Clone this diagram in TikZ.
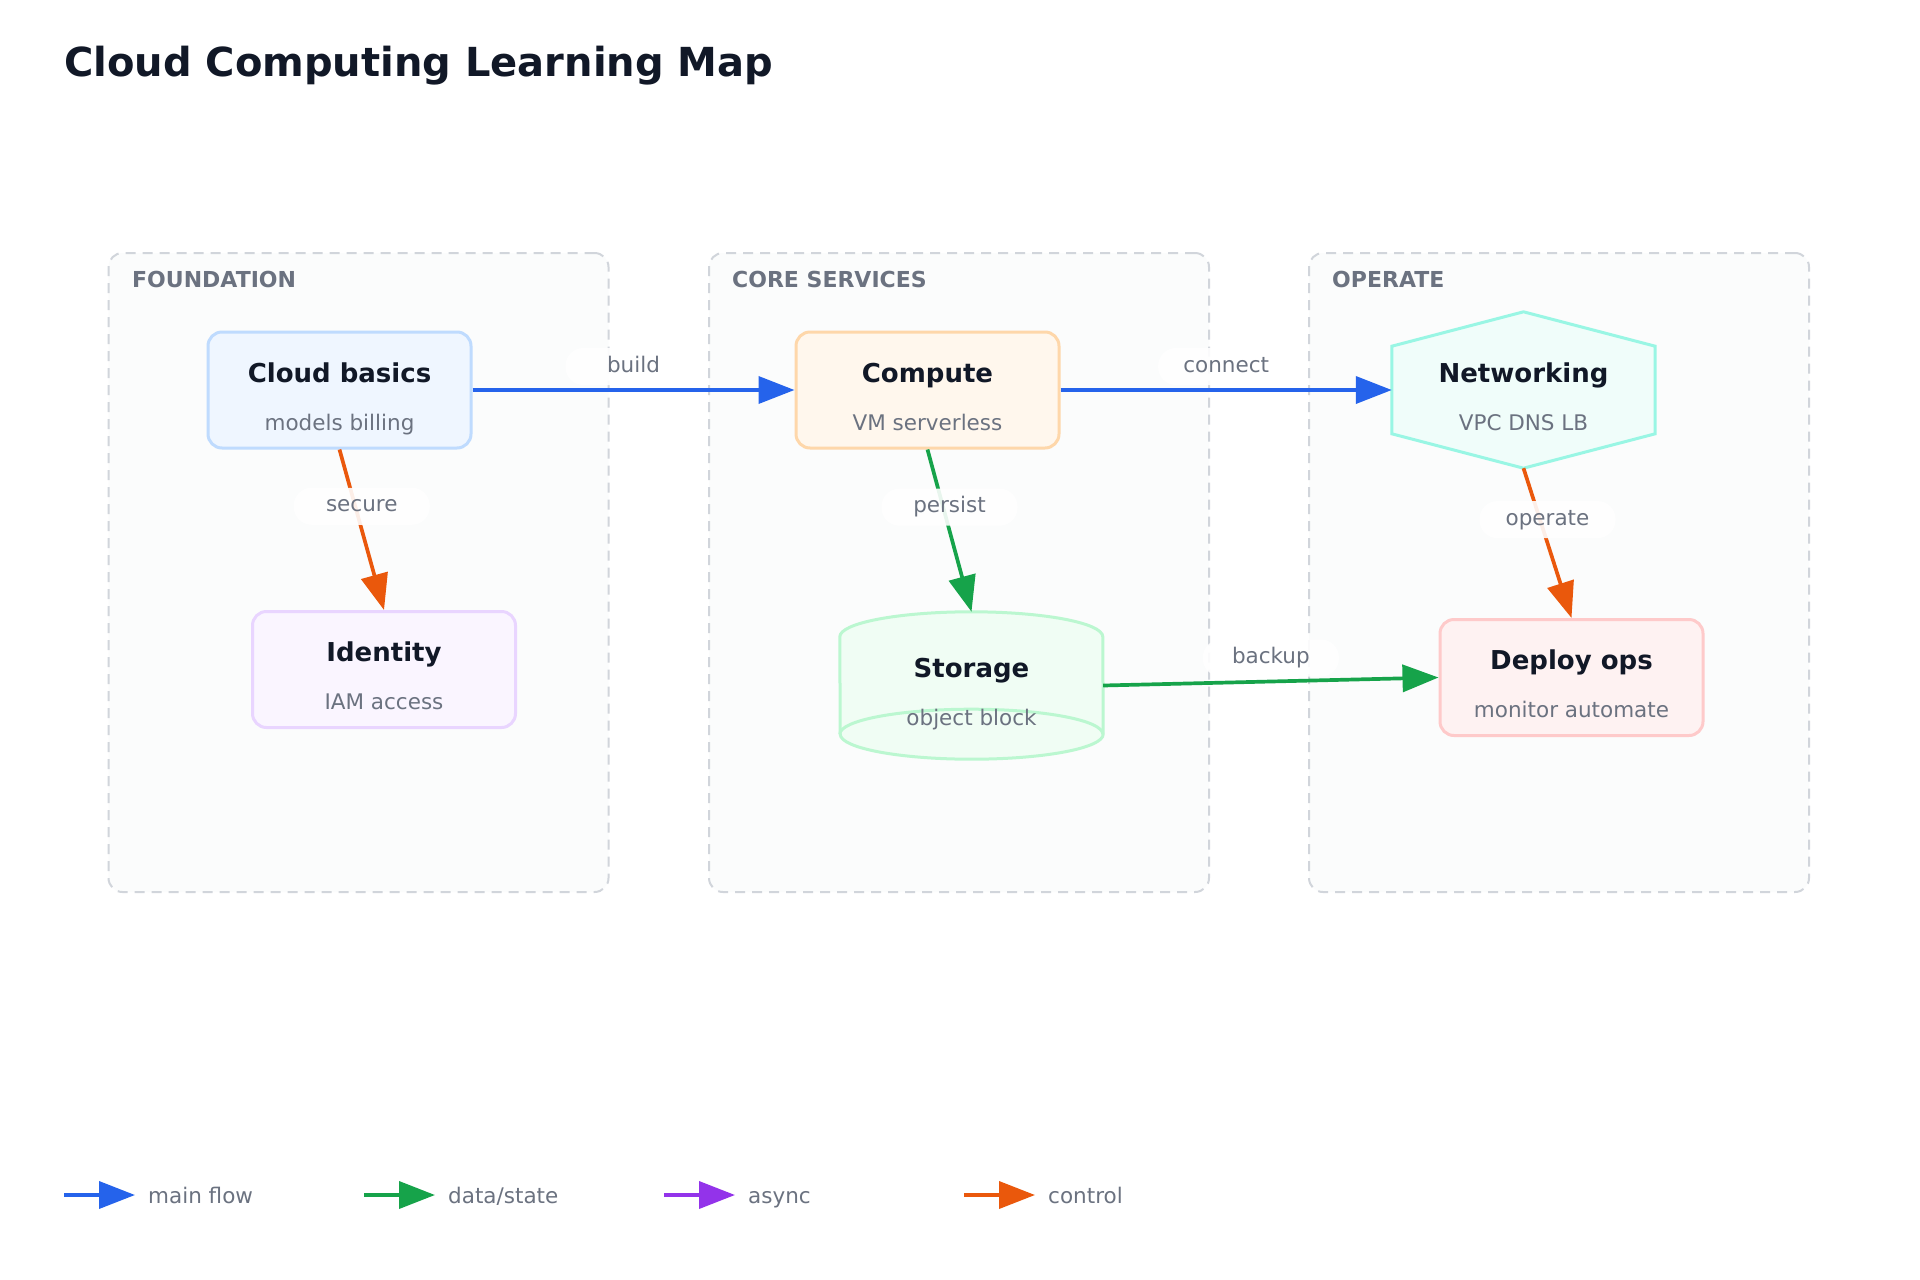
\documentclass[tikz,border=0pt]{standalone}
\usepackage{fontspec}
\setmainfont{DejaVu Sans}
\usetikzlibrary{arrows.meta,calc}
\definecolor{ink}{HTML}{111827}
\definecolor{subtext}{HTML}{6B7280}
\definecolor{grpline}{HTML}{D1D5DB}
\definecolor{grpfill}{HTML}{FBFCFC}
\definecolor{cblue}{HTML}{2563EB}
\definecolor{cgreen}{HTML}{16A34A}
\definecolor{cpurple}{HTML}{9333EA}
\definecolor{corange}{HTML}{EA580C}
\definecolor{bfill}{HTML}{EFF6FF}\definecolor{bline}{HTML}{BFDBFE}
\definecolor{ofill}{HTML}{FFF7ED}\definecolor{oline}{HTML}{FED7AA}
\definecolor{pfill}{HTML}{FAF5FF}\definecolor{pline}{HTML}{E9D5FF}
\definecolor{gfill}{HTML}{F0FDF4}\definecolor{gline}{HTML}{BBF7D0}
\definecolor{tfill}{HTML}{F0FDFA}\definecolor{tline}{HTML}{99F6E4}
\definecolor{rfill}{HTML}{FEF2F2}\definecolor{rline}{HTML}{FECACA}
\begin{document}
\begin{tikzpicture}[x=1pt,y=-1pt,
  grp/.style={draw=grpline, dash pattern=on 10pt off 7pt, line width=2pt, fill=grpfill, rounded corners=14pt, minimum width=500pt, minimum height=639pt, anchor=north west, inner sep=0},
  grplabel/.style={font=\fontsize{22}{26}\selectfont\bfseries, text=subtext, anchor=base west, inner sep=0},
  box/.style={rounded corners=14pt, line width=3pt, minimum width=263pt, minimum height=116pt, inner sep=0},
  ghost/.style={draw=none, inner sep=0},
  ttl/.style={font=\fontsize{26}{30}\selectfont\bfseries, text=ink, anchor=base, inner sep=0},
  sub/.style={font=\fontsize{21.5}{26}\selectfont, text=subtext, anchor=base, inner sep=0},
  edge/.style={line width=3.7pt, -{Triangle[length=36pt,width=27pt]}},
  eblue/.style={edge, draw=cblue, fill=cblue},
  egreen/.style={edge, draw=cgreen, fill=cgreen},
  epurple/.style={edge, draw=cpurple, fill=cpurple},
  eorange/.style={edge, draw=corange, fill=corange},
  elabel/.style={fill=white, fill opacity=0.9, text opacity=1, text=subtext, rounded corners=18pt, minimum width=136pt, minimum height=37pt, inner sep=0, text height=15.5pt, text depth=4.5pt, font=\fontsize{21.5}{26}\selectfont},
  legtext/.style={font=\fontsize{21.5}{26}\selectfont, text=subtext, anchor=base west, inner sep=0}
]
\fill[white] (0,0) rectangle (1920,1280);
\useasboundingbox (0,0) rectangle (1920,1280);

% title
\node[anchor=base west, font=\fontsize{40}{48}\selectfont\bfseries, text=ink, inner sep=0] (title) at (64,76) {Cloud Computing Learning Map};

% groups
\node[grp] (g1) at (107.5,252) {};
\node[grp] (g2) at (708,252) {};
\node[grp] (g3) at (1308,252) {};
\node[grplabel] (g1l) at (132,287) {FOUNDATION};
\node[grplabel] (g2l) at (732,287) {CORE SERVICES};
\node[grplabel] (g3l) at (1332,287) {OPERATE};

% nodes
\node[box, fill=bfill, draw=bline] (cb) at (339.5,390) {};
\node[box, fill=pfill, draw=pline] (id) at (384,669.5) {};
\node[box, fill=ofill, draw=oline] (cp) at (927.5,390) {};
\node[box, fill=rfill, draw=rline] (dp) at (1571.5,677.5) {};
\node[ghost, minimum width=263pt, minimum height=147pt] (st) at (971.5,685.5) {};
\node[ghost, minimum width=263pt, minimum height=156pt] (nw) at (1523.5,390) {};

% cylinder
\filldraw[fill=gfill, draw=gline, line width=3pt]
  ($(st.north west)+(0,25)$) arc[start angle=180, end angle=0, x radius=131.5pt, y radius=25pt]
  -- ($(st.south east)+(0,-25)$) arc[start angle=0, end angle=-180, x radius=131.5pt, y radius=25pt]
  -- cycle;
\draw[draw=gline, line width=3pt]
  ($(st.south west)+(0,-25)$) arc[start angle=180, end angle=0, x radius=131.5pt, y radius=25pt];

% hexagon
\filldraw[fill=tfill, draw=tline, line width=3pt]
  (nw.north) -- ($(nw.north east)!0.22!(nw.south east)$) -- ($(nw.north east)!0.78!(nw.south east)$)
  -- (nw.south) -- ($(nw.north west)!0.78!(nw.south west)$) -- ($(nw.north west)!0.22!(nw.south west)$) -- cycle;

% texts
\node[ttl] (cbt) at ($(cb.center)+(0,-8)$) {Cloud basics};
\node[sub] (cbs) at ($(cb.center)+(0,40)$) {models billing};
\node[ttl] (idt) at ($(id.center)+(0,-8)$) {Identity};
\node[sub] (ids) at ($(id.center)+(0,40)$) {IAM access};
\node[ttl] (cpt) at ($(cp.center)+(0,-8)$) {Compute};
\node[sub] (cps) at ($(cp.center)+(0,40)$) {VM serverless};
\node[ttl] (stt) at ($(st.center)+(0,-8)$) {Storage};
\node[sub] (sts) at ($(st.center)+(0,40)$) {object block};
\node[ttl] (nwt) at ($(nw.center)+(0,-8)$) {Networking};
\node[sub] (nws) at ($(nw.center)+(0,40)$) {VPC DNS LB};
\node[ttl] (dpt) at ($(dp.center)+(0,-8)$) {Deploy ops};
\node[sub] (dps) at ($(dp.center)+(0,40)$) {monitor automate};

% edges
\draw[eblue] (cb.east) -- (cp.west);
\draw[eorange] (cb.south) -- (id.north);
\draw[egreen] (cp.south) -- (st.north);
\draw[eblue] (cp.east) -- (nw.west);
\draw[eorange] (nw.south) -- (dp.north);
\draw[egreen] (st.east) -- (dp.west);

\node[elabel] (l1) at ($(cb.east)!0.5!(cp.west)+(0,-23.5)$) {build};
\node[elabel] (l2) at ($(cb.south)!0.5!(id.north)+(0,-23.5)$) {secure};
\node[elabel] (l3) at ($(cp.south)!0.5!(st.north)+(0,-23.5)$) {persist};
\node[elabel] (l4) at ($(cp.east)!0.5!(nw.west)+(0,-23.5)$) {connect};
\node[elabel] (l5) at ($(nw.south)!0.5!(dp.north)+(0,-23.5)$) {operate};
\node[elabel] (l6) at ($(st.east)!0.5!(dp.west)+(0,-23.5)$) {backup};

% legend
\coordinate (k1a) at (64,1195); \coordinate (k1b) at (135,1195);
\coordinate (k2a) at (364,1195); \coordinate (k2b) at (435,1195);
\coordinate (k3a) at (664,1195); \coordinate (k3b) at (735,1195);
\coordinate (k4a) at (964,1195); \coordinate (k4b) at (1035,1195);
\draw[eblue] (k1a) -- (k1b);
\draw[egreen] (k2a) -- (k2b);
\draw[epurple] (k3a) -- (k3b);
\draw[eorange] (k4a) -- (k4b);
\node[legtext] (k1t) at (148,1203) {main flow};
\node[legtext] (k2t) at (448,1203) {data/state};
\node[legtext] (k3t) at (748,1203) {async};
\node[legtext] (k4t) at (1048,1203) {control};
\end{tikzpicture}
\end{document}
